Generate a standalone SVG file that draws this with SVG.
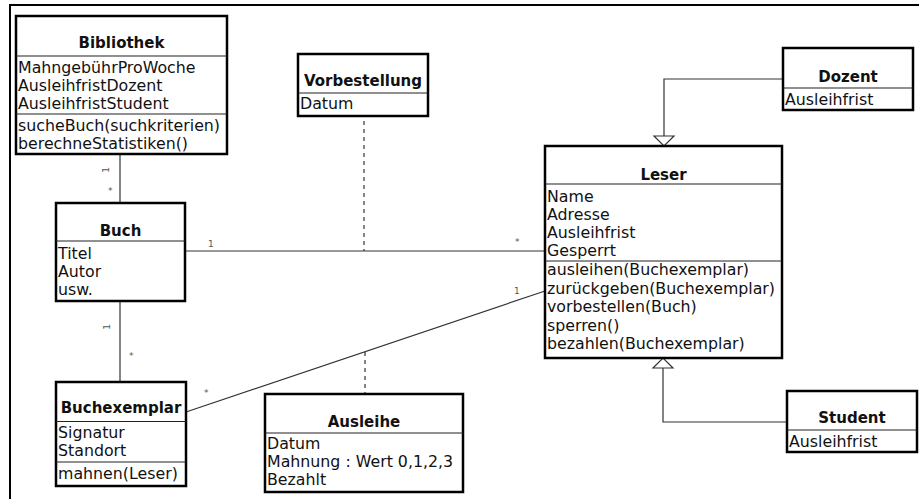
<svg xmlns="http://www.w3.org/2000/svg" width="919" height="499" viewBox="0 0 919 499">
<style>
.box{fill:#fff;stroke:#000;stroke-width:2.5}
.sep{stroke:#222;stroke-width:1.2}
.t{font-family:"DejaVu Sans",Verdana,sans-serif;font-size:15.8px;fill:#111}
.h{font-family:"DejaVu Sans",Verdana,sans-serif;font-size:15px;font-weight:bold;fill:#111;text-anchor:middle}
.c{fill:none;stroke:#333;stroke-width:1.2}
.d{fill:none;stroke:#333;stroke-width:1.2;stroke-dasharray:4 4}
.m{font-family:"DejaVu Sans",Verdana,sans-serif;font-size:9px;fill:#555}
.tri{fill:#fff;stroke:#333;stroke-width:1.2}
</style>
<rect width="919" height="499" fill="#fff"/>
<path d="M10,499 V5 H919" fill="none" stroke="#000" stroke-width="2"/>

<g id="connectors">
<line class="c" x1="120" y1="154" x2="120" y2="203"/>
<line class="c" x1="120" y1="301" x2="120" y2="382"/>
<line class="c" x1="185" y1="251" x2="545" y2="251"/>
<line class="c" x1="186" y1="412" x2="545" y2="291"/>
<line class="d" x1="364" y1="121" x2="364" y2="251"/>
<line class="d" x1="365" y1="352" x2="365" y2="393"/>
<polyline class="c" points="783,79 664,79 664,136"/>
<polygon class="tri" points="654,136 674,136 664,146"/>
<polyline class="c" points="787,422 663,422 663,368"/>
<polygon class="tri" points="653,368 673,368 663,358"/>
<text class="m" transform="translate(109,170) rotate(-90)" text-anchor="middle">1</text>
<text class="m" x="108" y="194">*</text>
<text class="m" transform="translate(110,327) rotate(-90)" text-anchor="middle">1</text>
<text class="m" x="129" y="359">*</text>
<text class="m" x="208" y="247">1</text>
<text class="m" x="515" y="245">*</text>
<text class="m" x="204" y="396">*</text>
<text class="m" x="514" y="294">1</text>
</g>

<g id="Bibliothek">
<rect class="box" x="16" y="16" width="211" height="138"/>
<line class="sep" x1="16" y1="56" x2="227" y2="56"/>
<line class="sep" x1="16" y1="114" x2="227" y2="114"/>
<text class="h" x="121.5" y="48">Bibliothek</text>
<text class="t" x="18" y="73">MahngebührProWoche</text>
<text class="t" x="18" y="91">AusleihfristDozent</text>
<text class="t" x="18" y="109">AusleihfristStudent</text>
<text class="t" x="18" y="131">sucheBuch(suchkriterien)</text>
<text class="t" x="18" y="149">berechneStatistiken()</text>
</g>

<g id="Vorbestellung">
<rect class="box" x="298" y="54" width="130" height="62"/>
<line class="sep" x1="298" y1="93" x2="428" y2="93"/>
<text class="h" x="363" y="86">Vorbestellung</text>
<text class="t" x="300" y="109">Datum</text>
</g>

<g id="Dozent">
<rect class="box" x="783" y="48" width="130" height="62"/>
<line class="sep" x1="783" y1="88" x2="913" y2="88"/>
<text class="h" x="848" y="82">Dozent</text>
<text class="t" x="785" y="105">Ausleihfrist</text>
</g>

<g id="Buch">
<rect class="box" x="56" y="203" width="129" height="98"/>
<line class="sep" x1="56" y1="241" x2="185" y2="241"/>
<text class="h" x="120.5" y="236">Buch</text>
<text class="t" x="58" y="259">Titel</text>
<text class="t" x="58" y="277">Autor</text>
<text class="t" x="58" y="295">usw.</text>
</g>

<g id="Leser">
<rect class="box" x="545" y="146" width="237" height="212"/>
<line class="sep" x1="545" y1="184" x2="782" y2="184"/>
<line class="sep" x1="545" y1="261" x2="782" y2="261"/>
<text class="h" x="663.5" y="180">Leser</text>
<text class="t" x="547" y="202">Name</text>
<text class="t" x="547" y="220">Adresse</text>
<text class="t" x="547" y="238">Ausleihfrist</text>
<text class="t" x="547" y="256">Gesperrt</text>
<text class="t" x="547" y="275">ausleihen(Buchexemplar)</text>
<text class="t" x="547" y="293.5">zurückgeben(Buchexemplar)</text>
<text class="t" x="547" y="312">vorbestellen(Buch)</text>
<text class="t" x="547" y="330.5">sperren()</text>
<text class="t" x="547" y="349">bezahlen(Buchexemplar)</text>
</g>

<g id="Buchexemplar">
<rect class="box" x="56" y="382" width="130" height="104"/>
<line class="sep" x1="56" y1="421.5" x2="186" y2="421.5"/>
<line class="sep" x1="56" y1="462" x2="186" y2="462"/>
<text class="h" x="121" y="413">Buchexemplar</text>
<text class="t" x="58" y="438">Signatur</text>
<text class="t" x="58" y="456">Standort</text>
<text class="t" x="58" y="479">mahnen(Leser)</text>
</g>

<g id="Ausleihe">
<rect class="box" x="265" y="394" width="198" height="98"/>
<line class="sep" x1="265" y1="433" x2="463" y2="433"/>
<text class="h" x="364" y="427">Ausleihe</text>
<text class="t" x="267" y="449">Datum</text>
<text class="t" x="267" y="467">Mahnung : Wert 0,1,2,3</text>
<text class="t" x="267" y="485">Bezahlt</text>
</g>

<g id="Student">
<rect class="box" x="787" y="391" width="130" height="61"/>
<line class="sep" x1="787" y1="430" x2="917" y2="430"/>
<text class="h" x="852" y="423">Student</text>
<text class="t" x="789" y="447">Ausleihfrist</text>
</g>
</svg>
